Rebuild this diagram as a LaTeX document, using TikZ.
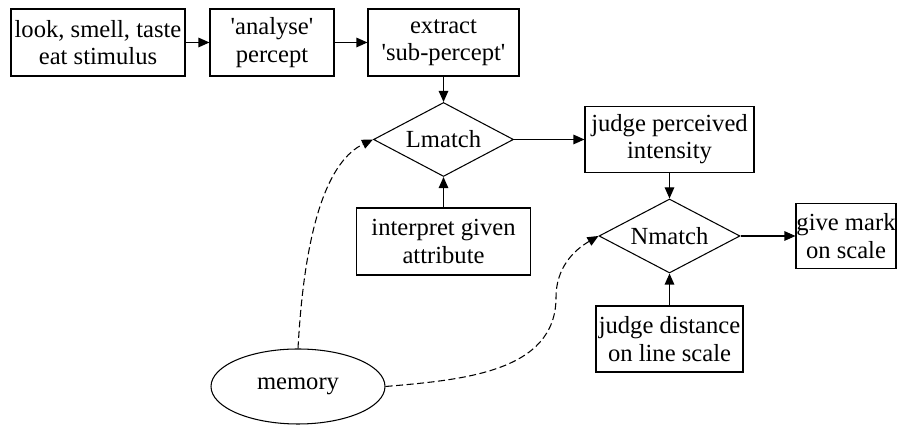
\documentclass[tikz,border=0pt]{standalone}
\usepackage{fontspec}
\setmainfont{Liberation Serif}
\usetikzlibrary{arrows.meta, shapes.geometric}

\begin{document}
\begin{tikzpicture}[font=\fontsize{14}{15.5}\selectfont, line width=0.6pt,
		proc/.style={draw, align=center, inner sep=0pt, minimum height=1.34cm},
		match/.style={draw, diamond, aspect=1.9, inner sep=1pt, minimum width=2.8cm, minimum height=1.48cm},
		mem/.style={draw, ellipse, inner sep=0pt, minimum width=3.48cm, minimum height=1.5cm},
		flow/.style={-{Triangle[length=0.22cm, width=0.19cm]}},
		recall/.style={flow, dash pattern=on 4pt off 2pt}]
	\useasboundingbox (0,0) rectangle (17.96,8.5);
	\clip (0,0) rectangle (17.96,8.5);
	
	% Ligne du haut
	\node[proc, minimum width=3.48cm] (look) at (1.96,7.65) {look, smell, taste\\eat stimulus};
	\node[proc, minimum width=2.48cm] (analyse) at (5.44,7.65) {\textquotesingle analyse\textquotesingle\\percept};
	\node[proc, minimum width=3.02cm] (extract) at (8.87,7.65) {extract\\\textquotesingle sub-percept\textquotesingle};
	
	\node[match] (Lmatch) at (8.87,5.71) {Lmatch};
	\node[proc, minimum width=3.38cm, minimum height=1.32cm] (judge) at (13.39,5.71) {judge perceived\\intensity};
	\node[proc, minimum width=3.48cm] (interp) at (8.87,3.67) {interpret given\\attribute};
	
	\node[match, minimum width=2.82cm] (Nmatch) at (13.39,3.78) {Nmatch};
	\node[proc, minimum width=2.0cm, minimum height=1.3cm] (mark) at (16.92,3.78) {give mark\\on scale};
	\node[proc, minimum width=2.94cm, minimum height=1.32cm] (dist) at (13.39,1.72) {judge distance\\on line scale};
	
	\node[mem] (memory) at (5.96,0.77) {memory};
	\coordinate (bend) at (11.12,2.55);
	
	\draw[flow] (look) -- (analyse);
	\draw[flow] (analyse) -- (extract);
	\draw[flow] (extract) -- (Lmatch);
	\draw[flow] (interp) -- (Lmatch);
	\draw[flow] (Lmatch) -- (judge);
	\draw[flow] (judge) -- (Nmatch);
	\draw[flow] (dist) -- (Nmatch);
	\draw[flow] (Nmatch) -- (mark);
	
	% Rappels depuis la memoire
	\draw[recall] (memory.north) .. controls (6.10,4.10) and (6.60,5.30) .. (Lmatch.west);
	\draw[recall] (memory.east) to[out=5, in=-90] (bend) to[out=90, in=210] (Nmatch.west);
\end{tikzpicture}
\end{document}
